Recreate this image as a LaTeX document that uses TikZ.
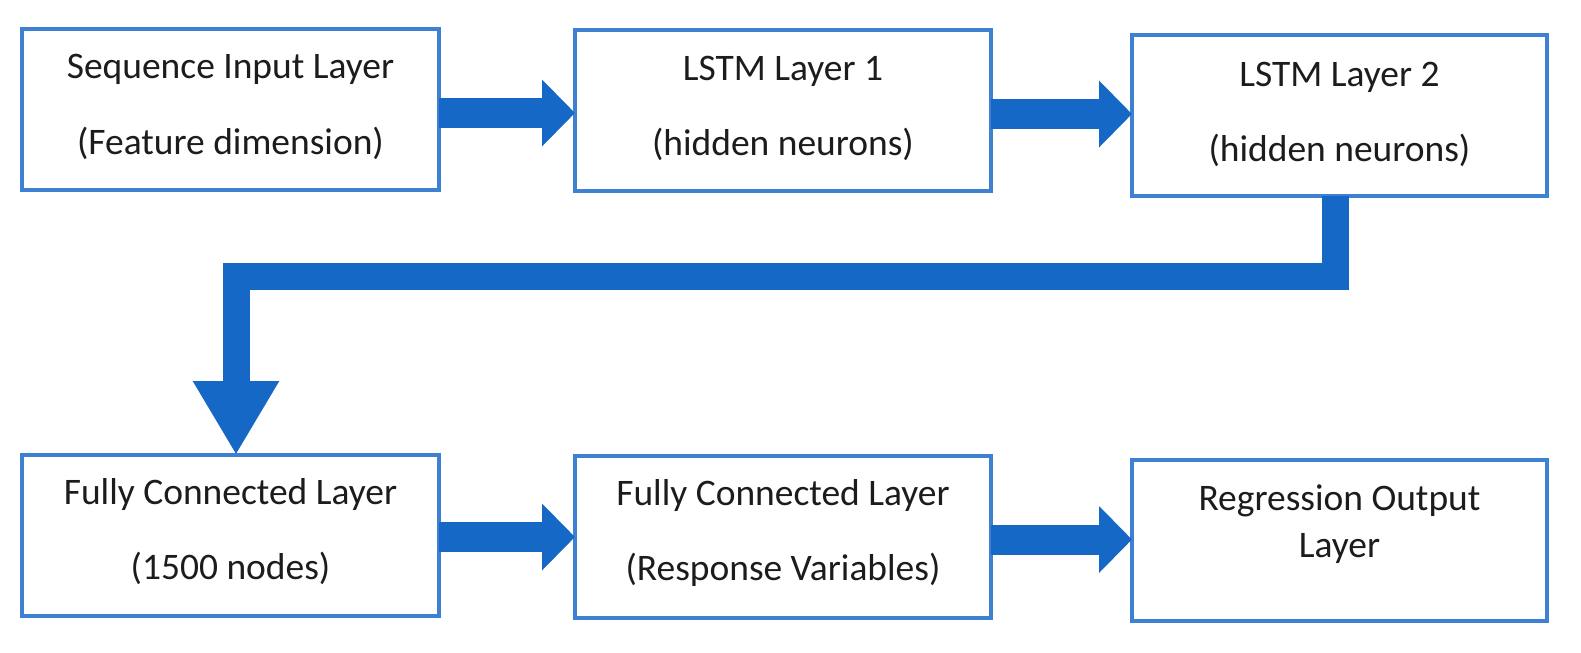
\documentclass[tikz,border=0pt]{standalone}
\usepackage{fontspec}
\setmainfont{Carlito}
\usetikzlibrary{arrows.meta}
\definecolor{boxblue}{RGB}{62,128,210}
\definecolor{arrowblue}{RGB}{22,104,198}
\definecolor{txtgray}{RGB}{28,28,28}
\begin{document}
\begin{tikzpicture}[x=0.75pt,y=-0.75pt,
  layerbox/.style={draw=boxblue,line width=2.8pt,fill=white,inner sep=0pt,outer sep=0pt},
  txt/.style={anchor=base,inner sep=0pt,text=txtgray,font=\fontsize{28.1pt}{34pt}\selectfont},
  flowarrow/.style={draw=arrowblue,line width=22.5pt,
     -{Triangle[width=48.75pt,length=24.75pt,fill=arrowblue]}},
  elbowarrow/.style={draw=arrowblue,line width=20.25pt,line join=miter,
     -{Triangle[width=60.75pt,length=55.5pt,fill=arrowblue]}}]
\useasboundingbox (0,0) rectangle (1581,653);
\fill[white] (0,0) rectangle (1581,653);

% boxes
\node[layerbox,minimum width=312.75pt,minimum height=120.75pt] (b1) at (230.5,109.5) {};
\node[layerbox,minimum width=312pt,minimum height=120.75pt] (b2) at (783,110.5) {};
\node[layerbox,minimum width=311.25pt,minimum height=120.75pt] (b3) at (1339.5,115.5) {};
\node[layerbox,minimum width=312.75pt,minimum height=120.75pt] (b4) at (230.5,535.5) {};
\node[layerbox,minimum width=312pt,minimum height=121.5pt] (b5) at (783,537) {};
\node[layerbox,minimum width=311.25pt,minimum height=120.75pt] (b6) at (1339.5,540.5) {};

% texts
\node[txt] (t1a) at (230.5,78) {Sequence Input Layer};
\node[txt] (t1b) at (230.5,154) {(Feature dimension)};
\node[txt] (t2a) at (783,80) {LSTM Layer 1};
\node[txt] (t2b) at (783,155) {(hidden neurons)};
\node[txt] (t3a) at (1339.5,86) {LSTM Layer 2};
\node[txt] (t3b) at (1339.5,161) {(hidden neurons)};
\node[txt] (t4a) at (230.5,504) {Fully Connected Layer};
\node[txt] (t4b) at (230.5,579) {(1500 nodes)};
\node[txt] (t5a) at (783,505) {Fully Connected Layer};
\node[txt] (t5b) at (783,580) {(Response Variables)};
\node[txt] (t6a) at (1339.5,510) {Regression Output};
\node[txt] (t6b) at (1339.5,557) {Layer};

% arrow levels
\coordinate (r1) at (0,113);
\coordinate (r2) at (0,114);
\coordinate (r3) at (0,537);
\coordinate (r4) at (0,539.5);
\coordinate (e1) at (1335,276.5);
\coordinate (e2) at (236,276.5);

\draw[flowarrow] (b1.east |- r1) -- (b2.west |- r1);
\draw[flowarrow] (b2.east |- r2) -- (b3.west |- r2);
\draw[flowarrow] (b4.east |- r3) -- (b5.west |- r3);
\draw[flowarrow] (b5.east |- r4) -- (b6.west |- r4);
\draw[elbowarrow] (b3.south -| e1) -- (e1) -- (e2) -- (e2 |- b4.north);
\end{tikzpicture}
\end{document}
